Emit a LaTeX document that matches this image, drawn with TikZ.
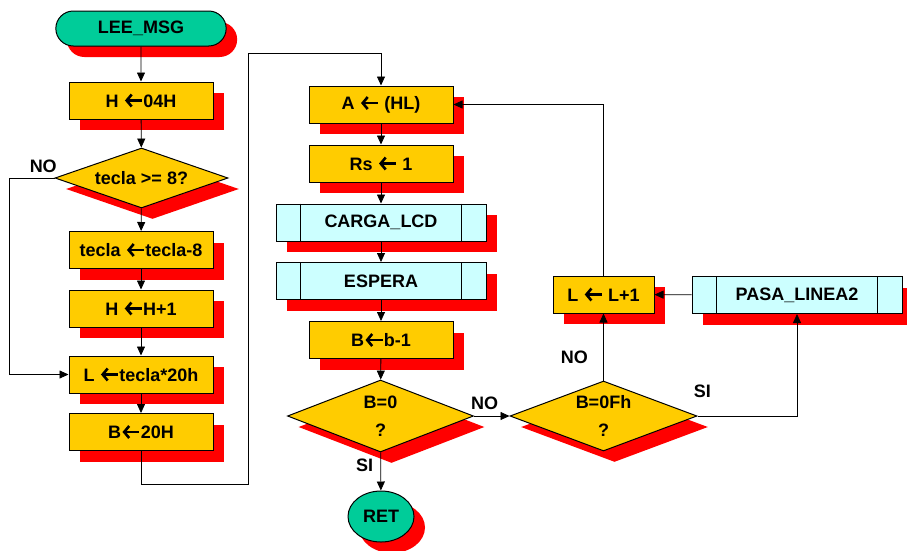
\documentclass[tikz,border=0pt]{standalone}
\usepackage{fontspec}
\setmainfont{Liberation Sans}
\usepackage{tikz}
\usetikzlibrary{shapes.geometric,shapes.misc,arrows.meta,shadows,calc}
\definecolor{termgreen}{HTML}{00CC99}
\definecolor{procgold}{HTML}{FFCC00}
\definecolor{subcyan}{HTML}{CCFFFF}
\newcommand{\asig}{\tikz[baseline=-6.5pt]\draw[line width=2.6pt, {Straight Barb[length=5pt,width=12pt,line width=2.6pt]}-] (0pt,0pt) -- (17pt,0pt);}

\begin{document}
\begin{tikzpicture}[
    x=1pt, y=-1pt,
    font=\bfseries\fontsize{18}{22}\selectfont,
    base/.style={draw, line width=1pt, drop shadow={shadow xshift=11pt, shadow yshift=-11pt, fill=red, opacity=1}},
    term/.style={base, rounded rectangle, fill=termgreen, minimum width=177pt, minimum height=35pt},
    proc/.style={base, rectangle, fill=procgold, minimum width=144pt, minimum height=37pt, inner sep=0pt},
    subr/.style={base, rectangle, fill=subcyan, minimum width=210pt, minimum height=37pt, inner sep=0pt},
    dec/.style={base, diamond, fill=procgold, inner sep=0pt, align=center, font=\bfseries\fontsize{18}{28}\selectfont},
    arr/.style={-{Triangle[length=9pt,width=8pt]}, line width=0.8pt},
    lbl/.style={font=\bfseries\fontsize{18}{22}\selectfont}
]
\useasboundingbox (0,0) rectangle (907,550);

\node[term] (lee) at (141,28.5) {LEE\_MSG};
\node[proc] (h04) at (141,100.5) {H \asig04H};
\node[dec, aspect=2.9, minimum width=173pt, minimum height=60pt] (tec8) at (141.5,178) {tecla >= 8?};
\node[proc] (tecm8) at (141,250) {tecla \asig tecla-8};
\node[proc] (hinc) at (141,308.5) {H \asig H+1};
\node[proc] (lset) at (141,374.5) {L \asig tecla*20h};
\node[proc] (b20) at (141,432) {B\asig20H};

\node[proc] (ahl) at (381,104.5) {A \asig{} (HL)};
\node[proc] (rs) at (381,163.5) {Rs \asig{} 1};
\node[subr] (carga) at (381,222.5) {CARGA\_LCD};
\node[subr] (espera) at (381,281) {ESPERA};
\node[proc] (bdec) at (381,340) {B\asig b-1};
\node[dec, aspect=2.6, minimum width=186pt, minimum height=72pt] (bz) at (380.5,416) {B=0\\?};
\node[base, ellipse, fill=termgreen, minimum width=66pt, minimum height=51pt, inner sep=0pt] (ret) at (381,516.5) {RET};

\node[dec, aspect=2.7, minimum width=187pt, minimum height=70pt] (bf) at (603.5,416) {B=0Fh\\?};
\node[proc, minimum width=101pt] (linc) at (603.5,294.5) {L \asig{} L+1};
\node[subr] (pasa) at (797,295) {PASA\_LINEA2};

\foreach \n in {carga,espera,pasa} {
    \draw[line width=1pt] ([xshift=25pt]\n.north west) -- ([xshift=25pt]\n.south west);
    \draw[line width=1pt] ([xshift=-25pt]\n.north east) -- ([xshift=-25pt]\n.south east);
}

\coordinate (jmp1) at (248,484);
\coordinate (jmp2) at (248,53);

\draw[arr] (lee) -- (h04);
\draw[arr] (h04) -- (tec8);
\draw[arr] (tec8) -- (tecm8);
\draw[arr] (tecm8) -- (hinc);
\draw[arr] (hinc) -- (lset);
\draw[arr] (tec8.west) -- ++(-45,0) node[lbl, pos=0.25, above=2pt] {NO} |- (lset.west);
\draw[arr] (lset) -- (b20);
\draw[arr] (b20) |- (jmp1) -- (jmp2) -| (ahl);

\draw[arr] (ahl) -- (rs);
\draw[arr] (rs) -- (carga);
\draw[arr] (carga) -- (espera);
\draw[arr] (espera) -- (bdec);
\draw[arr] (bdec) -- (bz);
\draw[arr] (bz) -- (ret) node[lbl, pos=0.35, left=4pt] {SI};
\draw[arr] (bz.east) -- (bf.west) node[lbl, pos=0.3, above=3pt] {NO};
\draw[arr] (bf) -- (linc) node[lbl, pos=0.35, left=12pt] {NO};
\draw[arr] (bf.east) -| (pasa) node[lbl, pos=0.025, above=15pt] {SI};
\draw[arr] (pasa) -- (linc);
\draw[arr] (linc) |- (ahl);
\end{tikzpicture}
\end{document}
